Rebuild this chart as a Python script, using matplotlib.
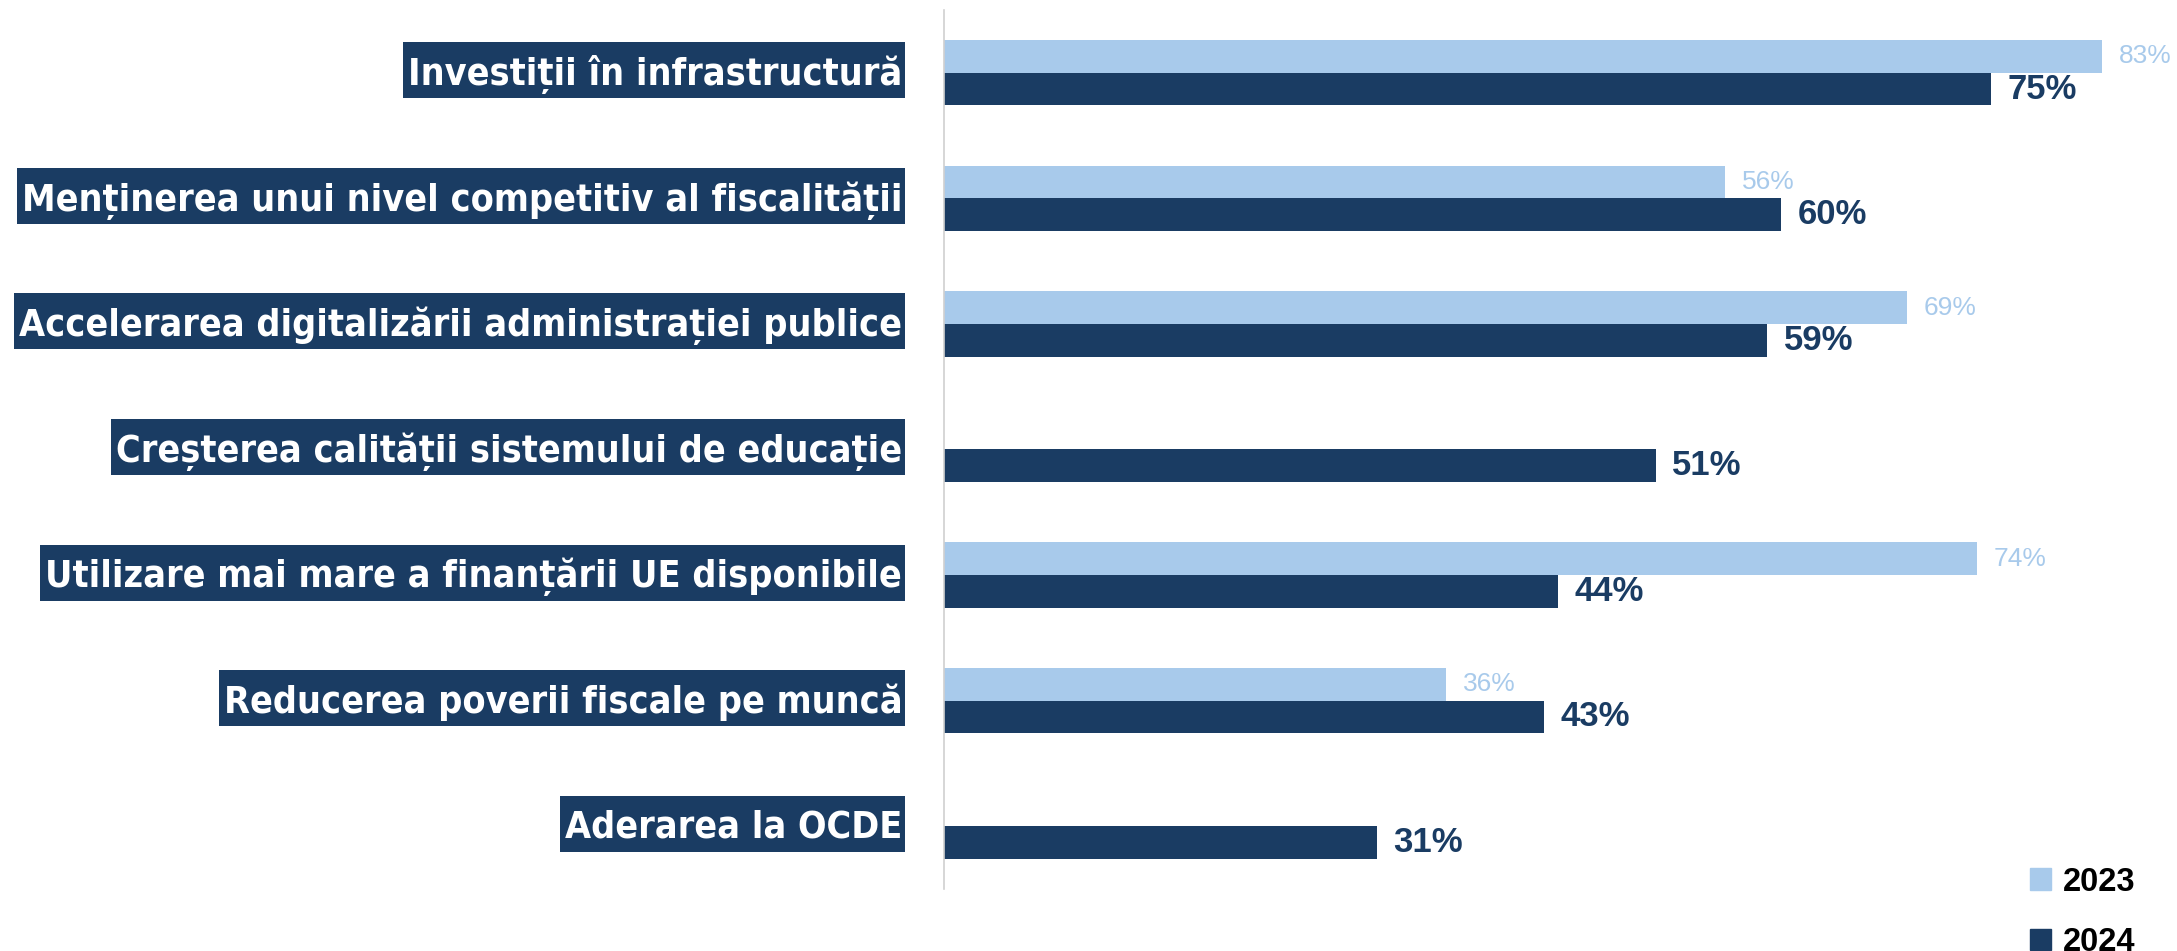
import matplotlib.pyplot as plt
from matplotlib.patches import Patch, Rectangle
from matplotlib import font_manager

# data
categories = [
    "Investiții în infrastructură",
    "Menținerea unui nivel competitiv al fiscalității",
    "Accelerarea digitalizării administrației publice",
    "Creșterea calității sistemului de educație",
    "Utilizare mai mare a finanțării UE disponibile",
    "Reducerea poverii fiscale pe muncă",
    "Aderarea la OCDE",
]
vals_2023 = [83, 56, 69, None, 74, 36, None]
vals_2024 = [75, 60, 59, 51, 44, 43, 31]

light = "#a8caeb"
dark = "#1a3c63"

# pick a condensed font for the category labels if one is installed
fonts = font_manager.fontManager.ttflist
lab_font = dict(family="DejaVu Sans", size=24.5)
if any(f.name == "Liberation Sans Narrow" for f in fonts):
    lab_font = dict(family="Liberation Sans Narrow", size=29)
elif any(f.name == "DejaVu Sans" and f.stretch == "condensed" and f.weight == 700 for f in fonts):
    lab_font = dict(family="DejaVu Sans", size=27, stretch="condensed")

fig = plt.figure(figsize=(21.77, 9.51), dpi=100)
ax = fig.add_axes([0.4336, 0.0652, 0.5564, 0.9243])

h = 0.26
ys = list(range(len(categories)))
for y, v in zip(ys, vals_2023):
    if v is not None:
        ax.barh(y - h / 2, v, height=h, color=light)
        ax.annotate(f"{v}%", (v, y - h / 2), xytext=(12, 0), textcoords="offset points",
                    ha="left", va="center", fontsize=19, color=light,
                    family="Liberation Sans")
ax.barh([y + h / 2 for y in ys], vals_2024, height=h, color=dark)
for y, v in zip(ys, vals_2024):
    ax.annotate(f"{v}%", (v, y + h / 2), xytext=(12, 0), textcoords="offset points",
                ha="left", va="center", fontsize=25, color=dark, fontweight="bold",
                family="Liberation Sans")

ax.set_xlim(0, 86.8)
ax.set_ylim(6.5, -0.5)
ax.set_xticks([])
ax.set_yticks([])
for s in ["top", "right", "bottom"]:
    ax.spines[s].set_visible(False)
ax.spines["left"].set_color("#d0d0d0")
ax.spines["left"].set_linewidth(1.2)

# category labels in navy boxes (fixed height boxes)
texts = []
for y, lab in zip(ys, categories):
    t = ax.text(-0.0345, y - 0.02, lab, transform=ax.get_yaxis_transform(),
                ha="right", va="center_baseline", color="white", fontweight="bold",
                zorder=5, clip_on=False, **lab_font)
    texts.append((y, t))
fig.canvas.draw()
r = fig.canvas.get_renderer()
box_h = 56
for y, t in texts:
    bb = t.get_window_extent(r)
    cy = ax.transData.transform((0, y - 0.02))[1]
    x0 = bb.x0 - 5
    x1 = 905
    ax.add_patch(Rectangle((x0 / fig.bbox.width, (cy - box_h / 2) / fig.bbox.height),
                           (x1 - x0) / fig.bbox.width, box_h / fig.bbox.height,
                           transform=fig.transFigure, fc=dark, ec="none",
                           zorder=4, clip_on=False))

handles = [Patch(color=light, label="2023"), Patch(color=dark, label="2024")]
fig.legend(handles=handles, loc="upper left", bbox_to_anchor=(0.9325, 0.0885),
           frameon=False, handlelength=0.65, handleheight=0.65, handletextpad=0.35,
           labelspacing=0.89, borderpad=0, borderaxespad=0,
           prop=dict(family="Liberation Sans", weight="bold", size=23.5))

fig.savefig("out.png", dpi=100)
